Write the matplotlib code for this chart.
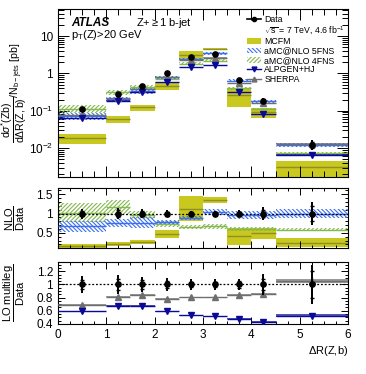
import numpy as np
import matplotlib
matplotlib.use('Agg')
import matplotlib.pyplot as plt
from matplotlib.lines import Line2D
from matplotlib.patches import Patch
from matplotlib.ticker import MultipleLocator, FixedLocator, NullFormatter, LogLocator

plt.rcParams['font.family'] = ['Liberation Sans', 'DejaVu Sans']
plt.rcParams['mathtext.fontset'] = 'custom'
plt.rcParams['mathtext.rm'] = 'Liberation Sans'
plt.rcParams['mathtext.it'] = 'Liberation Sans:italic'
plt.rcParams['mathtext.bf'] = 'Liberation Sans:bold'
plt.rcParams['hatch.linewidth'] = 0.8

# ---------------- data ----------------
edges = [0, 1, 1.5, 2, 2.5, 3, 3.5, 4, 4.5, 6]
centers = [0.5, 1.25, 1.75, 2.25, 2.75, 3.25, 3.75, 4.25, 5.25]
data = [0.110, 0.274, 0.458, 1.00, 2.80, 3.29, 0.66, 0.185, 0.0125]
data_tot = [0.13, 0.15, 0.12, 0.10, 0.08, 0.08, 0.09, 0.16, 0.30]   # relative
data_stat = [0.07, 0.09, 0.07, 0.05, 0.04, 0.04, 0.05, 0.09, 0.20]  # relative

mcfm_r = [0.17, 0.22, 0.27, 0.47, 1.13, 1.35, 0.41, 0.49, 0.25]
mcfm_u = [0.05, 0.05, 0.05, 0.11, 0.32, 0.08, 0.22, 0.14, 0.12]
nlo5_r = [0.67, 0.76, 0.76, 0.78, 0.89, 1.05, 0.97, 0.97, 1.00]
nlo5_u = [0.14, 0.10, 0.14, 0.06, 0.05, 0.08, 0.10, 0.10, 0.12]
nlo4_r = [1.02, 1.16, 0.96, 0.73, 0.65, 0.67, 0.60, 0.60, 0.58]
nlo4_u = [0.25, 0.19, 0.10, 0.07, 0.06, 0.06, 0.06, 0.05, 0.04]
alp_r = [0.59, 0.68, 0.68, 0.59, 0.53, 0.515, 0.48, 0.43, 0.525]
alp_u = [0.008, 0.008, 0.008, 0.008, 0.008, 0.008, 0.008, 0.008, 0.018]
she_r = [0.69, 0.815, 0.84, 0.78, 0.805, 0.805, 0.84, 0.855, 1.055]
she_u = [0.008, 0.008, 0.008, 0.008, 0.008, 0.008, 0.008, 0.008, 0.035]

edges = np.array(edges); centers = np.array(centers); data = np.array(data)
lefts = edges[:-1]; widths = np.diff(edges)

C_MCFM = '#c8c81e'; C_MCFM_L = '#8f8f2a'
C_5 = '#3c6ef0'; C_4 = '#84b850'
C_ALP = '#0a0a96'; C_SHE = '#6e6e6e'
H5 = '\\' * 8
H4 = '/' * 8

fig = plt.figure(figsize=(3.66, 3.74), dpi=100)
ax1 = fig.add_axes([0.158, 0.527, 0.793, 0.449])
ax2 = fig.add_axes([0.158, 0.337, 0.793, 0.160])
ax3 = fig.add_axes([0.158, 0.134, 0.793, 0.165])


def band(ax, c, u, scale, face, edge, hatch, line, lw=1.0, z=2):
    c = np.array(c) * scale; u = np.array(u) * scale
    if hatch:
        ax.bar(lefts, 2 * u, bottom=c - u, width=widths, align='edge',
               facecolor='none', edgecolor=edge, hatch=hatch, linewidth=0, zorder=z)
    else:
        ax.bar(lefts, 2 * u, bottom=c - u, width=widths, align='edge',
               facecolor=face, edgecolor='none', linewidth=0, zorder=z)
    ax.hlines(c, lefts, edges[1:], colors=line, lw=lw, zorder=z + 0.1)


def lo(ax, r, u, scale, color, marker, band_alpha=0.7):
    r = np.array(r) * scale; u = np.array(u) * scale
    ax.bar(lefts, 2 * u, bottom=r - u, width=widths, align='edge',
           facecolor=color, alpha=band_alpha, edgecolor='none', zorder=3)
    ax.hlines(r, lefts, edges[1:], colors=color, lw=1.0, zorder=3.1)
    ax.plot(centers, r, ls='none', marker=marker, color=color, ms=3.8, zorder=3.2)


def data_pts(ax, y, rel_tot, rel_stat):
    y = np.array(y)
    ax.errorbar(centers, y, yerr=y * np.array(rel_tot), fmt='o', color='k', ms=3.8,
                elinewidth=1.4, capsize=0, zorder=10)
    ax.errorbar(centers, y, yerr=y * np.array(rel_stat), fmt='none', ecolor='k',
                elinewidth=1.4, capsize=1.6, capthick=1.0, zorder=10)

# ---- main panel ----
band(ax1, mcfm_r, mcfm_u, data, C_MCFM, None, None, C_MCFM_L, lw=1.0, z=1)
band(ax1, nlo4_r, nlo4_u, data, None, C_4, H4, C_4, lw=1.0, z=2)
band(ax1, nlo5_r, nlo5_u, data, None, C_5, H5, C_5, lw=1.0, z=2.5)
lo(ax1, she_r, she_u, data, C_SHE, '^')
lo(ax1, alp_r, alp_u, data, C_ALP, 'v')
data_pts(ax1, data, data_tot, data_stat)
ax1.set_yscale('log')
ax1.set_ylim(1.7e-3, 53)
ax1.set_xlim(0, 6)
ax1.set_yticks([1e-2, 1e-1, 1, 10])
ax1.set_yticklabels([r'10$^{-2}$', r'10$^{-1}$', '1', '10'])
ax1.yaxis.set_minor_locator(LogLocator(base=10, subs=np.arange(2, 10)))
ax1.yaxis.set_minor_formatter(NullFormatter())
ax1.set_xticklabels([])

# ---- NLO ratio ----
one = np.ones(len(data))
band(ax2, mcfm_r, mcfm_u, one, C_MCFM, None, None, C_MCFM_L, lw=1.0, z=1)
band(ax2, nlo4_r, nlo4_u, one, None, C_4, H4, C_4, lw=1.0, z=2)
band(ax2, nlo5_r, nlo5_u, one, None, C_5, H5, C_5, lw=1.0, z=2.5)
ax2.axhline(1, color='k', ls=(0, (1.5, 1.5)), lw=0.9, zorder=5)
data_pts(ax2, one, data_tot, data_stat)
ax2.set_xlim(0, 6)
ax2.set_ylim(0.11, 1.66)
ax2.yaxis.set_major_locator(FixedLocator([0.5, 1.0, 1.5]))
ax2.set_yticklabels(['0.5', '1', '1.5'])
ax2.yaxis.set_minor_locator(MultipleLocator(0.1))
ax2.set_xticklabels([])

# ---- LO ratio ----
lo(ax3, she_r, she_u, one, C_SHE, '^')
lo(ax3, alp_r, alp_u, one, C_ALP, 'v')
ax3.axhline(1, color='k', ls=(0, (1.5, 1.5)), lw=0.9, zorder=5)
data_pts(ax3, one, data_tot, data_stat)
ax3.set_xlim(0, 6)
ax3.set_ylim(0.4, 1.34)
ax3.yaxis.set_major_locator(FixedLocator([0.4, 0.6, 0.8, 1.0, 1.2]))
ax3.set_yticklabels(['0.4', '0.6', '0.8', '1', '1.2'])
ax3.yaxis.set_minor_locator(MultipleLocator(0.05))
ax3.set_xticks([0, 1, 2, 3, 4, 5, 6])

for ax in (ax1, ax2, ax3):
    ax.xaxis.set_minor_locator(MultipleLocator(0.25))
    ax.tick_params(which='both', direction='in', top=True, right=True, labelsize=8.5, width=0.7)
    ax.tick_params(which='major', length=5)
    ax.tick_params(which='minor', length=2.5)
    for s in ax.spines.values():
        s.set_linewidth(0.8)
ax1.tick_params(which='major', length=8)
ax1.tick_params(which='minor', length=4)

# ---- labels ----
ax1.set_ylabel(r'$\dfrac{\mathrm{d}\sigma^{*}\mathrm{(Zb)}}{\mathrm{d}\Delta\mathrm{R(Z,b)}}$/N$_{\mathrm{b-jets}}$ [pb]',
               fontsize=7.6)
ax1.yaxis.set_label_coords(-0.1, 0.5)
ax2.set_ylabel(r'$\dfrac{\mathrm{NLO}}{\mathrm{Data}}$', fontsize=8)
ax2.yaxis.set_label_coords(-0.105, 0.5)
ax3.set_ylabel(r'$\dfrac{\mathrm{LO\ multileg}}{\mathrm{Data}}$', fontsize=8)
ax3.yaxis.set_label_coords(-0.105, 0.5)
ax3.set_xlabel(r'$\Delta$R(Z,b)', fontsize=8)
ax3.xaxis.set_label_coords(0.93, -0.33)

ax1.text(0.045, 0.915, 'ATLAS', transform=ax1.transAxes, fontsize=8.5,
         fontweight='bold', style='italic', va='center')
ax1.text(0.27, 0.915, r'Z+$\geq$1 b-jet', transform=ax1.transAxes, fontsize=8, va='center')
ax1.text(0.045, 0.845, r'p$_{\mathrm{T}}$(Z)>20 GeV', transform=ax1.transAxes, fontsize=8, va='center')

# ---- legend ----
h_data = Line2D([], [], color='k', marker='o', ms=3, lw=1.2)
h_blank = Line2D([], [], color='none')
h_mcfm = Patch(facecolor=C_MCFM, edgecolor='none')
h_5 = Patch(facecolor='none', edgecolor=C_5, hatch=H5, linewidth=0)
h_4 = Patch(facecolor='none', edgecolor=C_4, hatch=H4, linewidth=0)
h_alp = Line2D([], [], color=C_ALP, marker='v', ms=3.5, lw=1.0)
h_she = Line2D([], [], color=C_SHE, marker='^', ms=3.5, lw=1.0)
ax1.legend([h_data, h_blank, h_mcfm, h_5, h_4, h_alp, h_she],
           ['Data', r'$\sqrt{\mathrm{s}}$ = 7 TeV, 4.6 fb$^{-1}$', 'MCFM', 'aMC@NLO 5FNS',
            'aMC@NLO 4FNS', 'ALPGEN+HJ', 'SHERPA'],
           loc='upper left', bbox_to_anchor=(0.63, 1.0), frameon=False, fontsize=6.3,
           handlelength=1.6, handleheight=0.6, labelspacing=0.05, handletextpad=0.4,
           borderaxespad=0.3)

fig.savefig('out.png', dpi=100)
